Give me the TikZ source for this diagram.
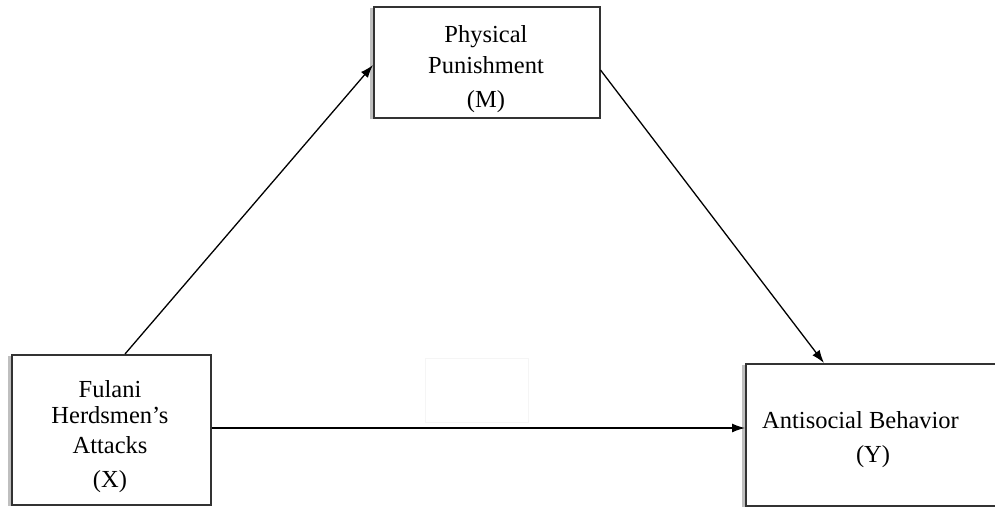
\documentclass[tikz,border=0pt]{standalone}
\usepackage{fontspec}
\setmainfont{Liberation Serif}
\usetikzlibrary{calc,arrows.meta}
\begin{document}
\begin{tikzpicture}[x=1pt,y=-1pt,
  box/.style={draw=black!80, line width=1.5pt, rectangle, inner sep=0pt, anchor=north west, fill=white},
  shade/.style={fill=black!25, draw=none, rectangle, inner sep=0pt, anchor=north west},
  lbl/.style={font=\fontsize{24.5}{30}\selectfont, anchor=base, inner sep=0pt},
  arr/.style={-{Latex[length=13pt,width=9pt]}, line width=1.3pt}]
\fill[white] (0,0) rectangle (995,506);
\clip (0,0) rectangle (995,506);
% faint empty box
\node[draw=black!4, line width=0.8pt, minimum width=103pt, minimum height=64pt, anchor=north west, inner sep=0pt] (blank) at (425,358) {};
% shadows
\node[shade, minimum width=226pt, minimum height=111pt] (Ms) at (370,8) {};
\node[shade, minimum width=199pt, minimum height=150pt] (Xs) at (8,356) {};
\node[shade, minimum width=260pt, minimum height=142pt] (Ys) at (742,365) {};
% boxes
\node[box, minimum width=226pt, minimum height=111pt] (M) at (373,6) {};
\node[box, minimum width=199pt, minimum height=150pt] (X) at (11,354) {};
\node[box, minimum width=260pt, minimum height=142pt] (Y) at (745,363) {};
% labels
\node[lbl] (m1) at (486,42) {Physical};
\node[lbl] (m2) at (486,73) {Punishment};
\node[lbl] (m3) at (486,107) {(M)};
\node[lbl] (x1) at (110,397) {Fulani};
\node[lbl] (x2) at (110,423) {Herdsmen’s};
\node[lbl] (x3) at (110,453) {Attacks};
\node[lbl] (x4) at (110,487) {(X)};
\node[lbl, anchor=base west] (y1) at (762,428) {Antisocial Behavior};
\node[lbl] (y2) at (873,462) {(Y)};
% arrows
\draw[arr] ($(X.north west)+(114,0)$) -- ($(M.north west)+(0,59)$);
\draw[arr] ($(M.north east)+(0,64)$) -- ($(Y.north west)+(79,0)$);
\draw[arr] ($(X.north east)+(0,74)$) -- ($(Y.north west)+(0,65)$);
\end{tikzpicture}
\end{document}
